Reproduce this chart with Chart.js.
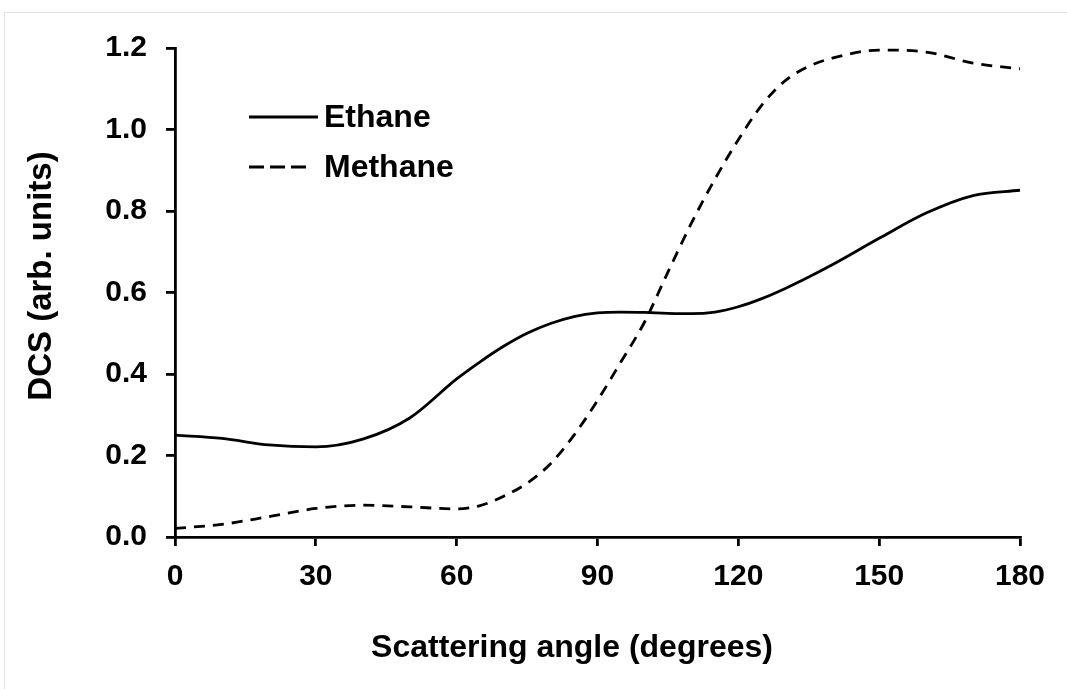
<!DOCTYPE html>
<html>
<head>
<meta charset="utf-8">
<script src="https://cdn.jsdelivr.net/npm/chart.js@4.4.0/dist/chart.umd.min.js"></script>
<style>
    body { margin: 0; background: #fff; }
    #wrap { position: relative; width: 1067px; height: 689px; overflow: hidden; }
    #frame { position: absolute; left: 4px; top: 12px; width: 1100px; height: 700px; border: 1px solid #e3e3e3; }
    #dcs { position: absolute; left: 0; top: 0; }
</style>
</head>
<body>
<div id="wrap">
    <div id="frame"></div>
    <canvas id="dcs" width="1067" height="689"></canvas>
</div>
<script>
// scattering angle (degrees)
let angles = [0, 10, 20, 30, 40, 50, 60, 65, 70, 75, 80, 85, 90, 95, 100, 105, 110, 115, 120, 125, 130, 135, 140, 150, 160, 170, 180];
// DCS values
let ethane = [0.250, 0.242, 0.226, 0.221, 0.240, 0.292, 0.388, 0.430, 0.468, 0.500, 0.524, 0.541, 0.550, 0.552, 0.551, 0.549, 0.548, 0.552, 0.565, 0.585, 0.610, 0.638, 0.668, 0.733, 0.795, 0.838, 0.851];
let methane = [0.021, 0.031, 0.050, 0.070, 0.078, 0.074, 0.069, 0.077, 0.100, 0.132, 0.180, 0.250, 0.335, 0.430, 0.527, 0.650, 0.770, 0.878, 0.975, 1.060, 1.120, 1.155, 1.175, 1.195, 1.190, 1.163, 1.149];
let xTicks = [0, 30, 60, 90, 120, 150, 180];
let yTicks = [0, 0.2, 0.4, 0.6, 0.8, 1.0, 1.2];
let xTitle = 'Scattering angle (degrees)';
let yTitle = 'DCS (arb. units)';

function toPoints(vals) {
    let pts = [];
    for (let i = 0; i < angles.length; i++) {
        pts.push({ x: angles[i], y: vals[i] });
    }
    return pts;
}

const FONT = "'Liberation Sans', Arial, sans-serif";

// legend inside the plot + axis titles (they sit off-centre in the original)
const extras = {
    id: 'extras',
    afterDraw(chart) {
        let ctx = chart.ctx;
        let rows = [
            { text: 'Ethane', y: 117, dash: [], end: 318 },
            { text: 'Methane', y: 167, dash: [15, 6], end: 306 }
        ];
        ctx.save();
        ctx.strokeStyle = '#000';
        ctx.fillStyle = '#000';
        ctx.lineWidth = 2.8;
        ctx.font = 'bold 32px ' + FONT;
        ctx.textBaseline = 'middle';
        ctx.textAlign = 'left';
        rows.forEach(function (r) {
            ctx.setLineDash(r.dash);
            ctx.beginPath();
            ctx.moveTo(249, r.y);
            ctx.lineTo(r.end, r.y);
            ctx.stroke();
            ctx.fillText(r.text, 324, r.y + 1);
        });

        // x title
        ctx.textAlign = 'center';
        ctx.fillText(xTitle, 572, 648);

        // y title
        ctx.font = 'bold 33px ' + FONT;
        ctx.translate(42, 276);
        ctx.rotate(-Math.PI / 2);
        ctx.fillText(yTitle, 0, 0);
        ctx.restore();
    }
};

let dcsChart = new Chart(document.getElementById('dcs'), {
    type: 'line',
    data: {
        datasets: [{
            label: 'Ethane',
            data: toPoints(ethane),
            borderColor: '#000',
            borderWidth: 2.8,
            pointRadius: 0,
            cubicInterpolationMode: 'monotone',
            fill: false
        }, {
            label: 'Methane',
            data: toPoints(methane),
            borderColor: '#000',
            borderWidth: 2.8,
            borderDash: [11, 8],
            pointRadius: 0,
            cubicInterpolationMode: 'monotone',
            fill: false
        }]
    },
    options: {
        responsive: false,
        animation: false,
        devicePixelRatio: 1,
        layout: { padding: { left: 0, top: 48, right: 47, bottom: 0 } },
        plugins: {
            legend: { display: false },
            tooltip: { enabled: false }
        },
        scales: {
            x: {
                type: 'linear',
                min: 0,
                max: 180,
                afterBuildTicks: function (axis) { axis.ticks = xTicks.map(function (v) { return { value: v }; }); },
                afterFit: function (axis) { axis.height = 152; },
                ticks: {
                    color: '#000',
                    font: { family: FONT, size: 30, weight: 'bold' },
                    padding: 13,
                    maxRotation: 0
                },
                grid: { drawOnChartArea: false, color: '#000', lineWidth: 2.8, tickLength: 9 },
                border: { color: '#000', width: 2.8 }
            },
            y: {
                min: 0,
                max: 1.2,
                afterBuildTicks: function (axis) { axis.ticks = yTicks.map(function (v) { return { value: v }; }); },
                afterFit: function (axis) { axis.width = 175; },
                ticks: {
                    color: '#000',
                    font: { family: FONT, size: 30, weight: 'bold' },
                    padding: 19,
                    callback: function (v) { return v.toFixed(1); }
                },
                grid: { drawOnChartArea: false, color: '#000', lineWidth: 2.8, tickLength: 9 },
                border: { color: '#000', width: 2.8 }
            }
        }
    },
    plugins: [extras]
});
</script>
</body>
</html>
